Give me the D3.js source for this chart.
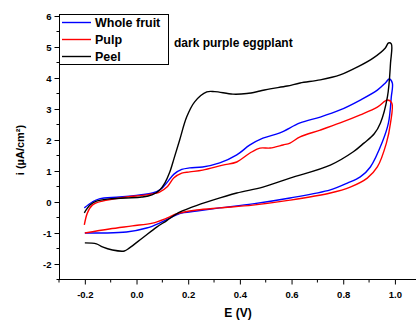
<!DOCTYPE html>
<html><head><meta charset="utf-8">
<script src="https://cdn.jsdelivr.net/npm/d3@7"></script>
<style>body{margin:0;background:#fff}svg{display:block}text{font-family:"Liberation Sans",Arial,sans-serif;font-weight:bold}</style>
</head><body><svg id="c" width="416" height="322"></svg>
<script>
const seriesNames = ["Whole fruit", "Pulp", "Peel"];
const seriesColors = ["#0000ff", "#ff0000", "#000000"];
const xTicks = [-0.2, 0.0, 0.2, 0.4, 0.6, 0.8, 1.0];
const yTicks = [-2, -1, 0, 1, 2, 3, 4, 5, 6];
const chartTitle = "dark purple eggplant";

// [E (V), i] pairs, scan order
const wholeFruit = [[-0.202,-0.19],[-0.171,0],[-0.144,0.1],[-0.066,0.16],[0.012,0.23],[0.062,0.29],[0.095,0.42],[0.12,0.65],[0.145,0.9],[0.175,1.05],[0.206,1.1],[0.256,1.13],[0.322,1.26],[0.388,1.52],[0.439,1.84],[0.489,2.06],[0.555,2.23],[0.633,2.55],[0.711,2.74],[0.788,2.97],[0.866,3.29],[0.932,3.61],[0.963,3.84],[0.978,3.97],[0.99,3.84],[0.986,3.39],[0.975,2.55],[0.952,1.95],[0.905,1.13],[0.866,0.81],[0.816,0.61],[0.75,0.39],[0.594,0.13],[0.45,-0.06],[0.322,-0.19],[0.233,-0.29],[0.167,-0.37],[0.128,-0.52],[0.089,-0.68],[0.039,-0.84],[-0.039,-0.97],[-0.132,-1.0],[-0.2,-1.0]];
const pulp = [[-0.202,-0.74],[-0.19,-0.35],[-0.171,-0.1],[-0.132,0.03],[-0.039,0.16],[0.039,0.23],[0.089,0.32],[0.12,0.5],[0.145,0.78],[0.175,0.93],[0.206,0.97],[0.256,1.03],[0.334,1.19],[0.388,1.29],[0.439,1.58],[0.478,1.74],[0.517,1.74],[0.567,1.84],[0.594,1.9],[0.633,2.1],[0.711,2.32],[0.788,2.55],[0.866,2.81],[0.932,3.06],[0.971,3.29],[0.988,3.19],[0.983,2.55],[0.967,1.9],[0.932,1.13],[0.893,0.77],[0.827,0.48],[0.75,0.29],[0.594,0.06],[0.45,-0.1],[0.322,-0.19],[0.233,-0.26],[0.159,-0.37],[0.117,-0.52],[0.062,-0.68],[-0.016,-0.77],[-0.105,-0.87],[-0.2,-1.0]];
const peel = [[-0.202,-0.35],[-0.18,-0.1],[-0.155,0.03],[-0.105,0.1],[-0.04,0.13],[0.02,0.16],[0.06,0.23],[0.09,0.39],[0.11,0.62],[0.128,0.95],[0.145,1.4],[0.167,2.0],[0.194,2.74],[0.225,3.23],[0.272,3.55],[0.303,3.56],[0.373,3.48],[0.427,3.5],[0.478,3.58],[0.517,3.65],[0.583,3.74],[0.633,3.84],[0.711,3.94],[0.788,4.1],[0.854,4.35],[0.917,4.65],[0.963,4.97],[0.975,5.13],[0.986,5.1],[0.983,4.48],[0.971,3.39],[0.944,2.55],[0.92,2.2],[0.88,1.9],[0.839,1.62],[0.75,1.19],[0.594,0.77],[0.489,0.48],[0.388,0.29],[0.295,0.06],[0.217,-0.16],[0.155,-0.38],[0.117,-0.6],[0.078,-0.81],[0.023,-1.16],[-0.027,-1.48],[-0.047,-1.58],[-0.093,-1.55],[-0.132,-1.45],[-0.155,-1.35],[-0.2,-1.32]];
const allSeries = [wholeFruit, pulp, peel];

const svg = d3.select("#c");
const x = d3.scaleLinear().domain([-0.3, 1.07]).range([59, 413]);
const y = d3.scaleLinear().domain([-2.5, 6]).range([279.5, 16]);

// axes
const xAxis = d3.axisBottom(x).tickValues(xTicks).tickSize(5).tickFormat(d3.format(".1f"));
const gx = svg.append("g").attr("transform","translate(0,279.5)").call(xAxis);
gx.select(".domain").attr("d", `M59,0H416`).attr("stroke","#000");
gx.selectAll("text").attr("font-size", 9.5).attr("dy", "1.1em").text(d => d3.format(".1f")(d).replace("−","-"));
const xMinor = d3.range(-0.3, 1.08, 0.1).filter(v => !xTicks.some(t => Math.abs(t - v) < 1e-6));
svg.append("g").selectAll("line").data(xMinor).join("line")
  .attr("x1", d => x(d)).attr("x2", d => x(d)).attr("y1", 279.5).attr("y2", 282.5).attr("stroke","#000");

const yAxis = d3.axisLeft(y).tickValues(yTicks).tickSize(5).tickFormat(d3.format("d"));
const gy = svg.append("g").attr("transform","translate(59.5,0)").call(yAxis);
gy.select(".domain").attr("d", `M0,14V279.5`).attr("stroke","#000");
gy.selectAll("text").attr("font-size", 9.5).attr("x", -8).text(d => String(d));
const yMinor = d3.range(-2.5, 6, 1);
svg.append("g").selectAll("line").data(yMinor).join("line")
  .attr("x1", 56.5).attr("x2", 59.5).attr("y1", d => y(d)).attr("y2", d => y(d)).attr("stroke","#000");

// curves
const line = d3.line().x(d => x(d[0])).y(d => y(d[1])).curve(d3.curveCatmullRom.alpha(0.5));
svg.append("g").selectAll("path").data(allSeries).join("path")
  .attr("d", line).attr("fill","none").attr("stroke", (d,i) => seriesColors[i]).attr("stroke-width", 1.4);

// legend
svg.append("rect").attr("x", 59.5).attr("y", 14.5).attr("width", 109).attr("height", 50)
  .attr("fill","#fff").attr("stroke","#000").attr("stroke-width",1);
const lg = svg.append("g").selectAll("g").data(seriesNames).join("g")
  .attr("transform", (d,i) => `translate(0,${22.5 + i*17})`);
lg.append("line").attr("x1", 62).attr("x2", 91).attr("y1", 0).attr("y2", 0)
  .attr("stroke", (d,i) => seriesColors[i]).attr("stroke-width", 1.4);
lg.append("text").attr("x", 95).attr("y", 4.5).attr("font-size", 12.5).text(d => d);

svg.append("text").attr("x", 174).attr("y", 47).attr("font-size", 12).text(chartTitle);
svg.append("text").attr("x", 238).attr("y", 317).attr("text-anchor","middle").attr("font-size", 12).text("E (V)");
svg.append("text").attr("transform","translate(24,150) rotate(-90)").attr("text-anchor","middle")
  .attr("font-size", 11).text("i (µA/cm²)");
</script></body></html>
